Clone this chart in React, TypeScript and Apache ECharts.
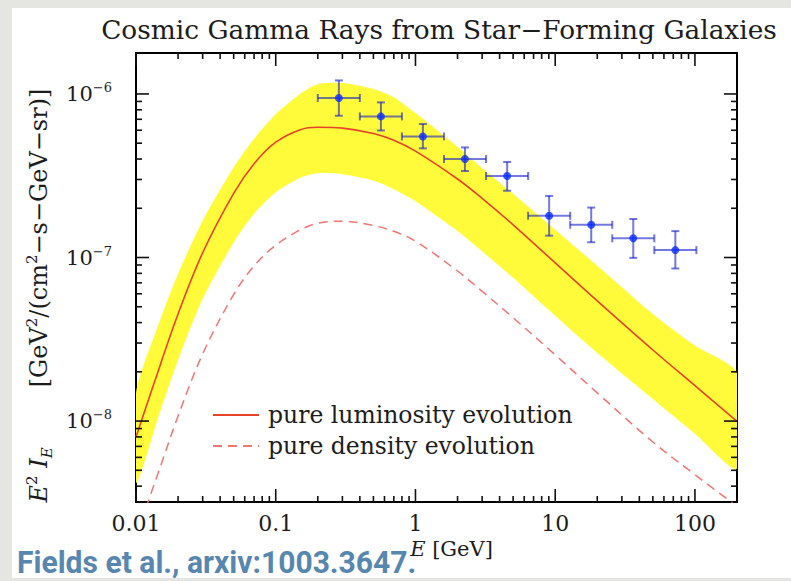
import React, { useEffect, useRef } from 'react';
import * as echarts from 'echarts';

// ---- data ----
const energies = [0.01, 0.015, 0.02, 0.03, 0.05, 0.07, 0.1, 0.15, 0.2, 0.3, 0.5, 0.7, 1, 2, 3, 5, 10, 20, 50, 100, 200];
const luminosityEvolution = [7.99e-9, 2.236e-8, 4.52e-8, 1.069e-7, 2.468e-7, 3.744e-7, 5.07e-7, 6.05e-7, 6.26e-7, 6.18e-7, 5.73e-7, 5.21e-7, 4.47e-7, 3.02e-7, 2.3e-7, 1.585e-7, 9.28e-8, 5.43e-8, 2.72e-8, 1.646e-8, 9.96e-9];
const densityEvolution = [1.98e-9, 5.31e-9, 1.074e-8, 2.574e-8, 5.94e-8, 8.9e-8, 1.188e-7, 1.477e-7, 1.619e-7, 1.668e-7, 1.568e-7, 1.446e-7, 1.258e-7, 8.27e-8, 6.21e-8, 4.28e-8, 2.54e-8, 1.486e-8, 7.45e-9, 4.7e-9, 3.01e-9];
const bandUpper = [1.486e-8, 4.22e-8, 7.95e-8, 1.677e-7, 3.56e-7, 5.33e-7, 7.52e-7, 1.004e-6, 1.148e-6, 1.166e-6, 1.073e-6, 9.56e-7, 7.64e-7, 4.75e-7, 3.515e-7, 2.454e-7, 1.477e-7, 8.9e-8, 4.52e-8, 2.893e-8, 1.958e-8];
const bandLower = [4.18e-9, 1.169e-8, 2.365e-8, 5.59e-8, 1.237e-7, 1.851e-7, 2.506e-7, 3.075e-7, 3.275e-7, 3.234e-7, 2.955e-7, 2.615e-7, 2.211e-7, 1.453e-7, 1.091e-7, 7.51e-8, 4.4e-8, 2.61e-8, 1.365e-8, 8.37e-9, 5.13e-9];

const binCenters = [0.283, 0.566, 1.13, 2.26, 4.53, 9.05, 18.1, 36.2, 72.4];
const binLow = [0.2, 0.4, 0.8, 1.6, 3.2, 6.4, 12.8, 25.6, 51.2];
const binHigh = [0.4, 0.8, 1.6, 3.2, 6.4, 12.8, 25.6, 51.2, 102.4];
const fermiFlux = [9.45e-7, 7.29e-7, 5.5e-7, 4.0e-7, 3.15e-7, 1.8e-7, 1.585e-7, 1.31e-7, 1.11e-7];
const fermiFluxHigh = [1.21e-6, 8.88e-7, 6.55e-7, 4.71e-7, 3.84e-7, 2.38e-7, 2.02e-7, 1.72e-7, 1.45e-7];
const fermiFluxLow = [7.36e-7, 5.98e-7, 4.65e-7, 3.38e-7, 2.56e-7, 1.36e-7, 1.24e-7, 9.95e-8, 8.57e-8];

const X_MIN = 0.01;
const X_MAX = 200;
const Y_MIN = 3.2e-9;
const Y_MAX = 1.78e-6;
const xDecades = [0.01, 0.1, 1, 10, 100];
const yDecades = [1e-9, 1e-8, 1e-7, 1e-6];
const minorMantissas = [2, 3, 4, 5, 6, 7, 8, 9];

const SERIF = '"DejaVu Serif", serif';
const TEXT = '#1c1c1c';

const isPow10 = (v: number) => {
  const l = Math.log10(v);
  return Math.abs(l - Math.round(l)) < 1e-6;
};

function buildTicks() {
  const t: number[][] = [];
  xDecades.forEach((d) => {
    if (d >= X_MIN && d <= X_MAX) t.push([d, Y_MIN, 0, 13]);
    minorMantissas.forEach((m) => {
      const v = m * d;
      if (v > X_MIN && v < X_MAX) t.push([v, Y_MIN, 0, 6]);
    });
  });
  yDecades.forEach((d) => {
    if (d >= Y_MIN && d <= Y_MAX) t.push([X_MIN, d, 1, 13]);
    minorMantissas.forEach((m) => {
      const v = m * d;
      if (v > Y_MIN && v < Y_MAX) t.push([X_MIN, v, 1, 6]);
    });
  });
  return t;
}

export default function App() {
  const ref = useRef<HTMLDivElement>(null);

  useEffect(() => {
    if (!ref.current) return;
    const chart = echarts.init(ref.current, undefined, { renderer: 'svg' });

    const tickStyle = { stroke: '#111', lineWidth: 1.6 };
    const barColor = 'rgba(20,30,200,0.6)';

    const option: any = {
      animation: false,
      title: {
        text: 'Cosmic Gamma Rays from Star\u2212Forming Galaxies',
        left: 434,
        top: 11,
        textAlign: 'center',
        textStyle: { fontFamily: SERIF, fontSize: 26.4, fontWeight: 'normal', color: TEXT },
      },
      legend: {
        data: ['pure luminosity evolution', 'pure density evolution'],
        orient: 'vertical',
        left: 207,
        top: 398,
        itemWidth: 46,
        itemHeight: 14,
        itemGap: 7,
        selectedMode: false,
        itemStyle: { opacity: 0, color: 'transparent', borderWidth: 0 },
        textStyle: { fontFamily: SERIF, fontSize: 23.5, color: TEXT, lineHeight: 23, padding: [0, 0, 0, 4] },
      },
      grid: {
        left: 136,
        top: 53,
        width: 601,
        height: 449,
        show: true,
        borderColor: '#000',
        borderWidth: 2,
        backgroundColor: 'transparent',
      },
      xAxis: {
        type: 'log',
        logBase: 10,
        min: X_MIN,
        max: X_MAX,
        axisLine: { show: false },
        axisTick: { show: false },
        splitLine: { show: false },
        axisLabel: {
          margin: 10,
          fontFamily: SERIF,
          fontSize: 22,
          color: TEXT,
          formatter: (v: number) => (isPow10(v) ? String(Number(v.toPrecision(6))) : ''),
        },
        name: '{i|E} [GeV]',
        nameLocation: 'middle',
        nameGap: 34,
        nameTextStyle: {
          fontFamily: SERIF,
          fontSize: 21,
          color: TEXT,
          padding: [0, 0, 0, 30],
          rich: { i: { fontFamily: SERIF, fontSize: 21, fontStyle: 'italic', color: TEXT } },
        },
      },
      yAxis: {
        type: 'log',
        logBase: 10,
        min: Y_MIN,
        max: Y_MAX,
        axisLine: { show: false },
        axisTick: { show: false },
        splitLine: { show: false },
        axisLabel: {
          margin: 24,
          formatter: (v: number) => {
            if (!isPow10(v)) return '';
            const e = Math.round(Math.log10(v));
            return '{b|10}{s|\u2212' + Math.abs(e) + '}';
          },
          rich: {
            b: { fontFamily: SERIF, fontSize: 21, color: TEXT, lineHeight: 26 },
            s: { fontFamily: SERIF, fontSize: 13, color: TEXT, verticalAlign: 'top', lineHeight: 13 },
          },
        },
        name: '{i|E}{sup|2} {i|I}{sub|E}{gap| }[GeV{sup|2}/(cm{sup|2}\u2212s\u2212GeV\u2212sr)]',
        nameLocation: 'middle',
        nameRotate: 90,
        nameGap: 82,
        nameTextStyle: {
          fontFamily: SERIF,
          fontSize: 24,
          color: TEXT,
          lineHeight: 30,
          padding: [0, 36, 0, 0],
          rich: {
            i: { fontFamily: SERIF, fontSize: 24, fontStyle: 'italic', color: TEXT, lineHeight: 30 },
            sup: { fontFamily: SERIF, fontSize: 15, color: TEXT, verticalAlign: 'top', lineHeight: 15 },
            sub: { fontFamily: SERIF, fontSize: 15, fontStyle: 'italic', color: TEXT, verticalAlign: 'bottom', lineHeight: 15 },
            gap: { width: 60, fontSize: 24 },
          },
        },
      },
      series: [
        {
          name: 'band',
          type: 'custom',
          data: energies.map((e, i) => [e, bandUpper[i], bandLower[i]]),
          encode: { x: 0, y: 1 },
          clip: true,
          silent: true,
          z: 1,
          renderItem: (params: any, api: any) => {
            if (params.dataIndex !== 0) return null;
            const up = energies.map((e, i) => api.coord([e, bandUpper[i]]));
            const lo = energies.map((e, i) => api.coord([e, bandLower[i]])).reverse();
            return {
              type: 'polygon',
              shape: { points: up.concat(lo), smooth: 0.25 },
              style: { fill: '#fffb3a', stroke: 'none' },
            };
          },
        },
        {
          name: 'pure luminosity evolution',
          type: 'line',
          data: energies.map((e, i) => [e, luminosityEvolution[i]]),
          symbol: 'none',
          smooth: 0.35,
          lineStyle: { color: '#e5432a', width: 1.6 },
          itemStyle: { color: '#e5432a' },
          z: 3,
        },
        {
          name: 'pure density evolution',
          type: 'line',
          data: energies.map((e, i) => [e, densityEvolution[i]]),
          symbol: 'none',
          smooth: 0.35,
          lineStyle: { color: '#f07575', width: 1.5, type: [9, 6] },
          itemStyle: { color: '#f07575' },
          z: 3,
        },
        {
          name: 'errorbars',
          type: 'custom',
          data: binCenters.map((c, i) => [c, fermiFlux[i], binLow[i], binHigh[i], fermiFluxLow[i], fermiFluxHigh[i]]),
          encode: { x: 0, y: 1 },
          z: 4,
          silent: true,
          renderItem: (params: any, api: any) => {
            const c = api.value(0);
            const f = api.value(1);
            const pL = api.coord([api.value(2), f]);
            const pR = api.coord([api.value(3), f]);
            const pB = api.coord([c, api.value(4)]);
            const pT = api.coord([c, api.value(5)]);
            const st = { stroke: barColor, lineWidth: 2 };
            const cap = 4;
            return {
              type: 'group',
              children: [
                { type: 'line', shape: { x1: pL[0], y1: pL[1], x2: pR[0], y2: pR[1] }, style: st },
                { type: 'line', shape: { x1: pL[0], y1: pL[1] - cap, x2: pL[0], y2: pL[1] + cap }, style: st },
                { type: 'line', shape: { x1: pR[0], y1: pR[1] - cap, x2: pR[0], y2: pR[1] + cap }, style: st },
                { type: 'line', shape: { x1: pB[0], y1: pB[1], x2: pT[0], y2: pT[1] }, style: st },
                { type: 'line', shape: { x1: pB[0] - cap, y1: pB[1], x2: pB[0] + cap, y2: pB[1] }, style: st },
                { type: 'line', shape: { x1: pT[0] - cap, y1: pT[1], x2: pT[0] + cap, y2: pT[1] }, style: st },
              ],
            };
          },
        },
        {
          name: 'Fermi',
          type: 'scatter',
          data: binCenters.map((c, i) => [c, fermiFlux[i]]),
          symbol: 'circle',
          symbolSize: 8,
          itemStyle: { color: '#0a2dff' },
          z: 5,
          silent: true,
        },
        {
          name: 'ticks',
          type: 'custom',
          data: buildTicks(),
          encode: { x: 0, y: 1 },
          z: 6,
          silent: true,
          renderItem: (params: any, api: any) => {
            const kind = api.value(2);
            const len = api.value(3);
            if (kind === 0) {
              const v = api.value(0);
              const b = api.coord([v, Y_MIN]);
              const t = api.coord([v, Y_MAX]);
              return {
                type: 'group',
                children: [
                  { type: 'line', shape: { x1: b[0], y1: b[1], x2: b[0], y2: b[1] - len }, style: tickStyle },
                  { type: 'line', shape: { x1: t[0], y1: t[1], x2: t[0], y2: t[1] + len }, style: tickStyle },
                ],
              };
            }
            const v = api.value(1);
            const l = api.coord([X_MIN, v]);
            const r = api.coord([X_MAX, v]);
            return {
              type: 'group',
              children: [
                { type: 'line', shape: { x1: l[0], y1: l[1], x2: l[0] + len, y2: l[1] }, style: tickStyle },
                { type: 'line', shape: { x1: r[0], y1: r[1], x2: r[0] - len, y2: r[1] }, style: tickStyle },
              ],
            };
          },
        },
      ],
      graphic: [
        {
          type: 'text',
          x: 17,
          y: 562,
          scaleX: 0.97,
          z: 100,
          style: {
            text: 'Fields et al., arxiv:1003.3647.',
            fontFamily: 'Roboto, sans-serif',
            fontWeight: 'bold',
            fontSize: 31,
            fill: '#5787ae',
            verticalAlign: 'middle',
            align: 'left',
          },
        },
      ],
    };

    chart.setOption(option);
    return () => chart.dispose();
  }, []);

  return (
    <div style={{ position: 'fixed', left: 0, top: 0, width: 791, height: 581, background: '#e5e5e2' }}>
      <div style={{ position: 'absolute', left: 12, top: 8, width: 779, height: 570, background: '#ffffff' }} />
      <div ref={ref} style={{ position: 'absolute', left: 0, top: 0, width: 791, height: 581 }} />
    </div>
  );
}
